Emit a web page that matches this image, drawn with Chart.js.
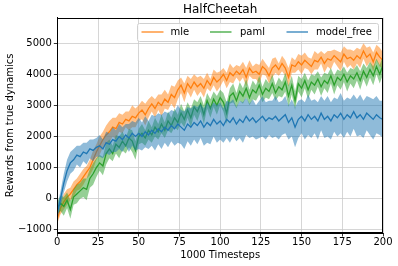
<!DOCTYPE html>
<html><head><meta charset="utf-8">
<script src="https://cdn.jsdelivr.net/npm/chart.js@4/dist/chart.umd.min.js"></script>
<style>html,body{margin:0;padding:0;background:#fff;}canvas{display:block;}</style>
</head><body>
<canvas id="c" width="398" height="266"></canvas>
<script>
// x positions: every 2 (thousand) timesteps, 0..200
const steps = Array.from({length: 101}, (_, i) => i * 2);
const xTicks = [0, 25, 50, 75, 100, 125, 150, 175, 200];
const yTicks = [-1000, 0, 1000, 2000, 3000, 4000, 5000];
const seriesNames = ['mle', 'paml', 'model_free'];

const mleMean = [
 -650,-300,-100,50,150,300,450,550,700,850,
 1000,1250,1500,1700,1900,2050,2150,2300,2250,2450,
 2400,2550,2500,2650,2600,2750,2850,2700,2900,3050,
 2900,3100,3000,3200,3100,3350,3250,3500,3650,3400,
 3700,3550,3750,3600,3700,3550,3800,3650,3900,3750,
 3850,4000,3800,4050,3950,4100,4000,4150,3900,4200,
 4050,4100,4000,4250,4150,3950,4200,4300,4150,4350,
 4200,3900,4300,4250,4400,4300,4450,4350,4250,4450,
 4400,4550,4350,4500,4450,4600,4500,4400,4650,4500,
 4550,4450,4600,4500,4750,4550,4650,4400,4700,4550,
 4450];
const mleSpread = [
 150,200,250,250,200,250,200,250,250,200,
 250,300,250,300,250,300,350,300,350,300,
 300,250,300,350,300,250,300,350,300,250,
 300,250,350,300,250,300,350,300,250,300,
 250,300,250,300,250,300,250,200,250,300,
 250,200,250,300,250,200,250,250,300,250,
 200,250,300,250,200,250,300,250,200,250,
 250,300,250,200,250,300,250,200,250,300,
 250,200,300,250,300,200,250,300,250,300,
 250,300,250,300,250,300,250,300,250,300,
 250];
const pamlMean = [
 -300,-150,-250,-50,-350,50,150,250,350,300,
 650,800,1000,1150,1050,1450,1600,1450,1750,1650,
 1850,1700,1950,1850,1550,2000,2100,1950,2200,2050,
 2300,2150,2400,2200,2500,2350,2600,2450,2750,2550,
 2850,2600,2950,2800,3050,2700,3150,2900,3200,3000,
 3250,3100,2750,3300,3400,3150,3450,3300,3550,3250,
 3500,3400,3650,3350,3550,3450,3700,3400,3600,3500,
 3750,3300,3650,3150,3700,3550,3800,3500,3750,3650,
 3850,3600,3800,3700,3950,3650,3900,3800,4000,3750,
 3950,3850,4050,3800,4100,3900,4150,3950,4250,4000,
 4300];
const pamlSpread = [
 200,250,300,250,300,250,300,250,300,350,
 300,350,300,250,300,350,300,250,300,350,
 300,250,300,350,300,250,300,250,300,250,
 300,250,300,250,300,250,300,250,300,250,
 250,300,250,300,250,300,250,300,250,300,
 250,300,350,250,300,250,300,250,300,250,
 300,250,300,250,300,250,300,250,300,250,
 300,350,300,300,250,300,250,300,250,300,
 250,300,250,300,250,300,250,300,250,300,
 250,300,250,300,250,300,250,300,250,300,
 300];
const mfMean = [
 -450,0,500,900,1150,1250,1400,1350,1500,1450,
 1600,1550,1650,1700,1600,1800,1750,1900,1850,2000,
 1900,2050,1950,2100,2000,2100,2000,2150,2050,2200,
 2100,2250,2150,2300,2200,2350,2250,2400,2300,2200,
 2400,2300,2450,2350,2500,2300,2450,2350,2550,2400,
 2500,2350,2550,2450,2600,2400,2550,2450,2650,2500,
 2600,2450,2550,2650,2500,2600,2550,2650,2500,2600,
 2700,2450,2600,2300,2550,2650,2500,2700,2550,2650,
 2500,2750,2550,2650,2500,2700,2600,2750,2550,2700,
 2600,2800,2600,2700,2550,2750,2650,2550,2700,2600,
 2550];
const mfSpread = [
 200,250,300,350,350,350,300,350,300,350,
 300,350,300,350,300,350,350,400,350,400,
 400,350,450,400,450,500,450,500,450,500,
 550,500,550,500,550,500,550,600,550,600,
 550,600,550,600,550,600,650,600,550,600,
 600,550,600,650,600,550,600,650,600,550,
 600,550,600,650,600,550,600,650,600,550,
 600,550,600,650,600,550,600,650,600,550,
 600,550,600,650,600,550,600,650,600,550,
 600,550,600,650,600,550,600,650,600,550,
 600];

const colors = ['#ff7f0e', '#2ca02c', '#1f77b4'];
const bands = ['rgba(255,127,14,0.5)', 'rgba(44,160,44,0.5)', 'rgba(31,119,180,0.5)'];
const means = [mleMean, pamlMean, mfMean];
const spreads = [mleSpread, pamlSpread, mfSpread];

const pts = (arr, f) => steps.map((x, i) => ({x: x, y: f(arr[i], i)}));
const datasets = [];
seriesNames.forEach((name, k) => {
  const base = 9 - 3 * k;
  datasets.push({label: name + '_upper', data: pts(means[k], (v, i) => v + spreads[k][i]),
    borderWidth: 0, pointRadius: 0, fill: '+1', backgroundColor: bands[k], order: base});
  datasets.push({label: name + '_lower', data: pts(means[k], (v, i) => v - spreads[k][i]),
    borderWidth: 0, pointRadius: 0, fill: false, order: base - 1});
  datasets.push({label: name, data: pts(means[k], v => v),
    borderColor: colors[k], borderWidth: 1.3, pointRadius: 0, fill: false, order: base - 2});
});

Chart.defaults.font.family = "'DejaVu Sans', sans-serif";
Chart.defaults.color = '#000';

const frame = {
  id: 'frame',
  afterDatasetsDraw(chart) {
    const a = chart.chartArea, ctx = chart.ctx;
    ctx.save();
    ctx.strokeStyle = '#000'; ctx.lineWidth = 1;
    ctx.strokeRect(Math.round(a.left) + 0.5, Math.round(a.top) + 0.5,
      Math.round(a.right - a.left) - 1, Math.round(a.bottom - a.top) - 1);
    // legend
    const lx = 137.5, ly = 23.5, lw = 241, lh = 18;
    ctx.fillStyle = 'rgba(255,255,255,0.85)';
    ctx.strokeStyle = '#d0d0d0';
    ctx.beginPath();
    if (ctx.roundRect) ctx.roundRect(lx, ly, lw, lh, 2); else ctx.rect(lx, ly, lw, lh);
    ctx.fill(); ctx.stroke();
    const items = [[141.5, 163.5, 170.5], [210, 231.5, 240], [286.5, 308, 316]];
    ctx.font = "10px 'DejaVu Sans'";
    ctx.textBaseline = 'middle';
    ctx.textAlign = 'left';
    items.forEach((it, k) => {
      ctx.strokeStyle = colors[k]; ctx.lineWidth = 1.2;
      ctx.beginPath(); ctx.moveTo(it[0], 32); ctx.lineTo(it[1], 32); ctx.stroke();
      ctx.fillStyle = '#000';
      ctx.fillText(seriesNames[k], it[2], 32);
    });
    ctx.restore();
  }
};

new Chart(document.getElementById('c'), {
  type: 'line',
  data: {datasets},
  options: {
    responsive: false, animation: false, devicePixelRatio: 1,
    layout: {padding: {left: 0, right: 15, top: 0, bottom: 0}},
    plugins: {
      legend: {display: false}, tooltip: {enabled: false},
      title: {display: true, fullSize: false, text: 'HalfCheetah', font: {size: 12, weight: 'normal'},
        color: '#000', padding: {top: 2.8, bottom: 0.5}}
    },
    scales: {
      x: {type: 'linear', min: 0, max: 200,
        afterBuildTicks: s => { s.ticks = xTicks.map(v => ({value: v})); },
        afterFit: s => { s.height = 33; },
        grid: {color: '#cccccc', tickColor: '#000', tickLength: 3.5, lineWidth: 0.8},
        border: {color: '#000'},
        ticks: {font: {size: 10}, padding: 0, maxRotation: 0, color: '#000'},
        title: {display: true, text: '1000 Timesteps', font: {size: 10}, padding: {top: 0, bottom: 5}}
      },
      y: {type: 'linear', min: -1105, max: 5820,
        afterBuildTicks: s => { s.ticks = yTicks.map(v => ({value: v})); },
        afterFit: s => { s.width = 57.3; },
        grid: {color: '#cccccc', tickColor: '#000', tickLength: 3.5, lineWidth: 0.8},
        border: {color: '#000'},
        ticks: {font: {size: 10}, padding: 2, color: '#000',
          callback: v => v < 0 ? '\u2212' + Math.abs(v) : String(v)},
        title: {display: true, text: 'Rewards from true dynamics', font: {size: 10}, padding: {top: 4, bottom: 0}}
      }
    }
  },
  plugins: [frame]
});
</script>
</body></html>
